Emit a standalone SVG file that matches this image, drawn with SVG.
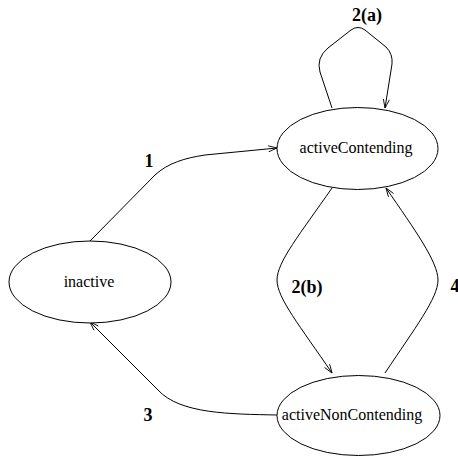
<svg xmlns="http://www.w3.org/2000/svg" width="458" height="458" viewBox="0 0 458 458">
  <style>
    .state { fill: #fff; stroke: #000; stroke-width: 1; }
    .name { font-family: "Liberation Serif", "Times New Roman", serif; font-size: 16px; fill: #000; text-anchor: middle; }
    .edge { fill: none; stroke: #000; stroke-width: 1; marker-end: url(#open); }
    .tag { font-family: "Liberation Serif", "Times New Roman", serif; font-size: 18px; font-weight: bold; fill: #000; text-anchor: middle; }
  </style>
  <defs>
    <marker id="open" viewBox="0 0 10 8" refX="10" refY="4" markerWidth="10" markerHeight="7" markerUnits="userSpaceOnUse" orient="auto">
      <path d="M0,0.5 L10,4 L0,7.5" fill="none" stroke="#000" stroke-width="1"/>
    </marker>
  </defs>
  <rect width="458" height="458" fill="#fff"/>

  <g id="connectors">
    <!-- 1: inactive -> activeContending -->
    <path class="edge" d="M90,241 L155,175 C168,163 185,158 205,155 L277,148"/>
    <!-- 2(a): self loop on activeContending -->
    <path class="edge" d="M332,108 L320,72 Q316,58 328,48 L351,30 Q358,25 365,30 L386,47 Q393,54 392,64 L385,108"/>
    <!-- 2(b): activeContending -> activeNonContending -->
    <path class="edge" d="M332,188 C300,234 277,262 277,280 C277,298 300,326 332,373"/>
    <!-- 4: activeNonContending -> activeContending -->
    <path class="edge" d="M385,373 C415,328 438,298 438,280 C438,262 415,230 386,188"/>
    <!-- 3: activeNonContending -> inactive -->
    <path class="edge" d="M277,415 C230,414 180,414 158,390 L90,322"/>
  </g>

  <g id="labels">
    <text class="tag" x="367" y="21">2(a)</text>
    <text class="tag" x="149" y="167">1</text>
    <text class="tag" x="307" y="293">2(b)</text>
    <text class="tag" x="148" y="421">3</text>
    <text class="tag" x="455" y="292">4</text>
  </g>

  <g id="activeContending">
    <ellipse class="state" cx="357.5" cy="148.5" rx="80.5" ry="41"/>
    <text class="name" x="356" y="153">activeContending</text>
  </g>

  <g id="inactive">
    <ellipse class="state" cx="90" cy="282" rx="81" ry="41"/>
    <text class="name" x="89" y="287">inactive</text>
  </g>

  <g id="activeNonContending">
    <ellipse class="state" cx="358.5" cy="415.5" rx="81.5" ry="40"/>
    <text class="name" x="352" y="420">activeNonContending</text>
  </g>
</svg>
